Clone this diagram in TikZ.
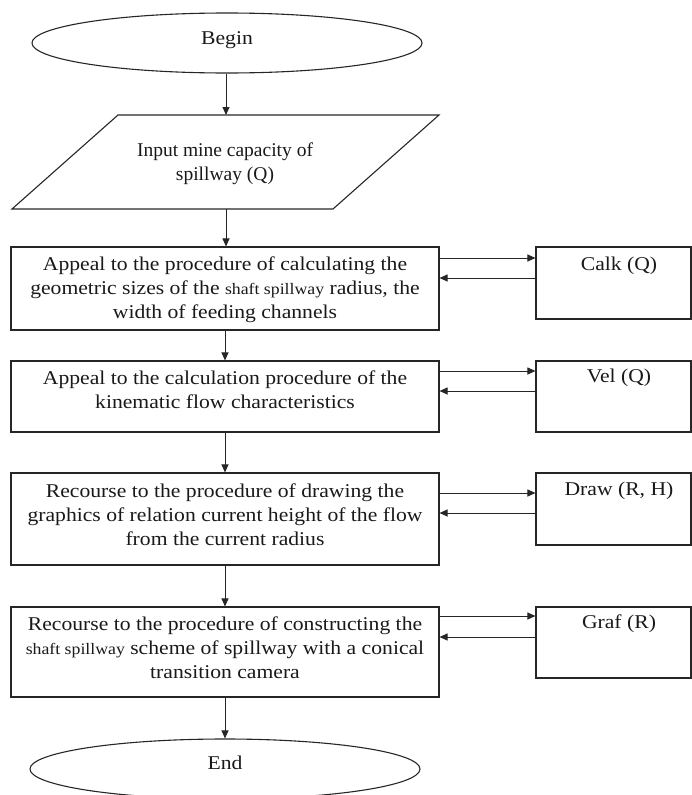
\documentclass[tikz,border=0pt]{standalone}
\usepackage{fontspec}
\setmainfont{Liberation Serif}
\newfontfamily\widefont{Liberation Serif}[FakeStretch=1.11]
\newcommand\smallsz{\fontsize{16}{24}\selectfont}
\usetikzlibrary{arrows.meta,shapes.geometric}
\begin{document}
\begin{tikzpicture}[x=1pt,y=-1pt,
  line width=1pt,
  boxshape/.style={draw=black!85, rectangle, inner sep=0pt, line width=1.1pt},
  ovalshape/.style={draw=black!85, ellipse, inner sep=0pt, minimum width=390pt, minimum height=60pt, line width=1.1pt},
  txt/.style={inner sep=0pt, align=center, font=\widefont\fontsize{19.5}{24}\selectfont, text=black!90},
  plaintxt/.style={inner sep=0pt, align=center, font=\fontsize{19.5}{24}\selectfont, text=black!90},
  arr/.style={draw=black!85, -{Triangle[length=8pt,width=7pt]}}
]
\useasboundingbox (0,0) rectangle (692,795);
\clip (0,0) rectangle (692,795);

% terminals
\node[ovalshape] (begin) at (227,43) {};
\node[txt] (begint) at (227,40) {Begin};
\node[ovalshape] (end) at (225,769) {};
\node[txt] (endt) at (225,763) {End};

% input parallelogram
\draw[draw=black!85, line width=1.1pt] (118,115) -- (439,115) -- (333,209) -- (12,209) -- cycle;
\coordinate (inTop) at (226,115);
\coordinate (inBot) at (226,209);
\node[plaintxt] (inpt) at (225,164) {Input mine capacity of\\ spillway (Q)};

% main boxes
\node[boxshape, minimum width=428pt, minimum height=83pt] (b1) at (225,288.5) {};
\node[boxshape, minimum width=428pt, minimum height=71pt] (b2) at (225,396.5) {};
\node[boxshape, minimum width=428pt, minimum height=92pt] (b3) at (225,519) {};
\node[boxshape, minimum width=428pt, minimum height=90pt] (b4) at (225,652) {};

\node[txt] (b1t) at (225,290) {Appeal to the procedure of calculating the\\ geometric sizes of the {\smallsz shaft spillway} radius, the\\ width of feeding channels};
\node[txt] (b2t) at (225,390) {Appeal to the calculation procedure of the\\ kinematic flow characteristics};
\node[txt] (b3t) at (225,515) {Recourse to the procedure of drawing the\\ graphics of relation current height of the flow\\ from the current radius};
\node[txt] (b4t) at (225,648) {Recourse to the procedure of constructing the\\ {\smallsz shaft spillway} scheme of spillway with a conical\\ transition camera};

% side boxes
\node[boxshape, minimum width=155pt, minimum height=72pt] (calk) at (613.5,283) {};
\node[boxshape, minimum width=155pt, minimum height=71pt] (vel) at (613.5,396.5) {};
\node[boxshape, minimum width=155pt, minimum height=72pt] (drw) at (613.5,509) {};
\node[boxshape, minimum width=155pt, minimum height=71pt] (graf) at (613.5,642.5) {};

\node[txt] (calkt) at (619,266) {Calk (Q)};
\node[txt] (velt) at (619,378) {Vel (Q)};
\node[txt] (drwt) at (619,491) {Draw (R, H)};
\node[txt] (graft) at (619,624) {Graf (R)};

% vertical flow
\draw[arr] (inTop |- begin.south) -- (inTop);
\draw[arr] (inBot) -- (inBot |- b1.north);
\draw[arr] (b1.south) -- (b2.north);
\draw[arr] (b2.south) -- (b3.north);
\draw[arr] (b3.south) -- (b4.north);
\draw[arr] (b4.south) -- (end.north);

% calls and returns
\draw[arr] (b1.east |- 0,258) -- (calk.west |- 0,258);
\draw[arr] (calk.west |- 0,278) -- (b1.east |- 0,278);
\draw[arr] (b2.east |- 0,371) -- (vel.west |- 0,371);
\draw[arr] (vel.west |- 0,391) -- (b2.east |- 0,391);
\draw[arr] (b3.east |- 0,493) -- (drw.west |- 0,493);
\draw[arr] (drw.west |- 0,513) -- (b3.east |- 0,513);
\draw[arr] (b4.east |- 0,616) -- (graf.west |- 0,616);
\draw[arr] (graf.west |- 0,637) -- (b4.east |- 0,637);
\end{tikzpicture}
\end{document}
